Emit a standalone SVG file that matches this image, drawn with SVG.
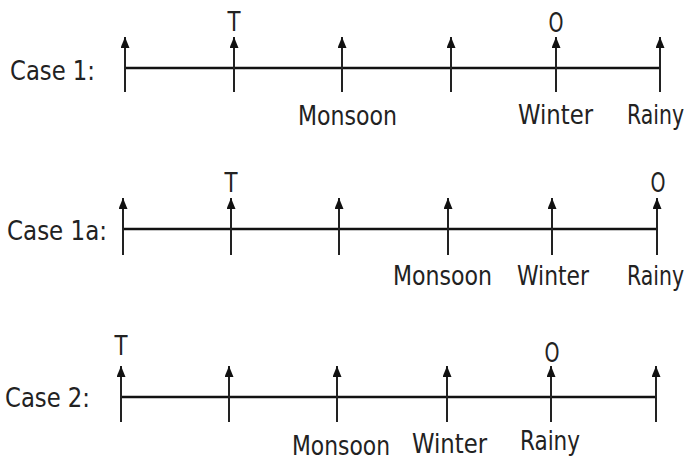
<svg xmlns="http://www.w3.org/2000/svg" width="694" height="461" viewBox="0 0 694 461">
<style>
.bg{fill:#fff}
.axis{stroke:#111;stroke-width:2.6;fill:none}
.tick{stroke:#222;stroke-width:2;fill:none;marker-end:url(#ah)}
text{font-family:"DejaVu Sans Condensed","DejaVu Sans",sans-serif;font-size:27px;fill:#222}
.mk{text-anchor:middle}
</style>
<defs>
<marker id="ah" markerWidth="11" markerHeight="9" refX="11" refY="4.5" orient="auto" markerUnits="userSpaceOnUse" viewBox="0 0 11 9">
<path d="M0,0 L11,4.5 L0,9 Z" fill="#111"/>
</marker>
</defs>
<rect class="bg" x="0" y="0" width="694" height="461"/>
<g id="connectors">
<line class="axis" x1="125" y1="68" x2="660" y2="68"/>
<path class="tick" d="M125,92 V37"/>
<path class="tick" d="M234,92 V37"/>
<path class="tick" d="M342,92 V37"/>
<path class="tick" d="M451,92 V37"/>
<path class="tick" d="M556,92 V37"/>
<path class="tick" d="M660,92 V37"/>
<line class="axis" x1="123" y1="229" x2="657" y2="229"/>
<path class="tick" d="M123,255 V198"/>
<path class="tick" d="M231,255 V198"/>
<path class="tick" d="M339,255 V198"/>
<path class="tick" d="M448,255 V198"/>
<path class="tick" d="M552,255 V198"/>
<path class="tick" d="M657,255 V198"/>
<line class="axis" x1="121" y1="397" x2="656" y2="397"/>
<path class="tick" d="M121,422 V366"/>
<path class="tick" d="M229,422 V366"/>
<path class="tick" d="M337,422 V366"/>
<path class="tick" d="M447,422 V366"/>
<path class="tick" d="M551,422 V366"/>
<path class="tick" d="M656,422 V366"/>
</g>
<g id="case1">
<text x="10" y="80" textLength="85" lengthAdjust="spacingAndGlyphs">Case 1:</text>
<text class="mk" x="234" y="31" textLength="13" lengthAdjust="spacingAndGlyphs">T</text>
<text class="mk" x="556" y="32" textLength="15" lengthAdjust="spacingAndGlyphs">O</text>
<text x="298" y="125" textLength="99" lengthAdjust="spacingAndGlyphs">Monsoon</text>
<text x="518" y="124" textLength="75" lengthAdjust="spacingAndGlyphs">Winter</text>
<text x="627" y="124" textLength="57" lengthAdjust="spacingAndGlyphs">Rainy</text>
</g>
<g id="case1a">
<text x="7" y="240" textLength="100" lengthAdjust="spacingAndGlyphs">Case 1a:</text>
<text class="mk" x="231" y="192" textLength="13" lengthAdjust="spacingAndGlyphs">T</text>
<text class="mk" x="658" y="192" textLength="15" lengthAdjust="spacingAndGlyphs">O</text>
<text x="393" y="285" textLength="99" lengthAdjust="spacingAndGlyphs">Monsoon</text>
<text x="517" y="285" textLength="72" lengthAdjust="spacingAndGlyphs">Winter</text>
<text x="627" y="285" textLength="57" lengthAdjust="spacingAndGlyphs">Rainy</text>
</g>
<g id="case2">
<text x="5" y="407" textLength="85" lengthAdjust="spacingAndGlyphs">Case 2:</text>
<text class="mk" x="121" y="355" textLength="13" lengthAdjust="spacingAndGlyphs">T</text>
<text class="mk" x="552" y="362" textLength="15" lengthAdjust="spacingAndGlyphs">O</text>
<text x="292" y="455" textLength="98" lengthAdjust="spacingAndGlyphs">Monsoon</text>
<text x="412" y="453" textLength="75" lengthAdjust="spacingAndGlyphs">Winter</text>
<text x="520" y="450" textLength="60" lengthAdjust="spacingAndGlyphs">Rainy</text>
</g>
</svg>
